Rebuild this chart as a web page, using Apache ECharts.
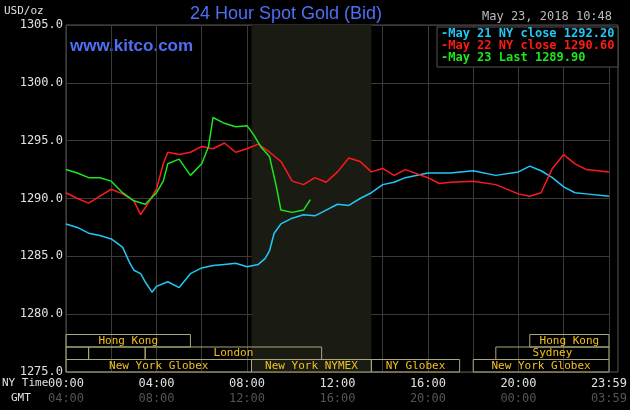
<!DOCTYPE html>
<html><head><meta charset="utf-8">
<script src="https://cdn.jsdelivr.net/npm/echarts@6/dist/echarts.min.js"></script>
<style>html,body{margin:0;padding:0;background:#000}#c{width:630px;height:410px}</style>
</head><body><div id="c"></div>
<script>
// hours since 00:00 NY time
const may21T = [0,0.5,1,1.5,2,2.5,2.8,3,3.3,3.5,3.8,4,4.5,5,5.5,6,6.5,7,7.5,8,8.5,8.8,9,9.2,9.5,10,10.5,11,11.5,12,12.5,13,13.5,14,14.5,15,16,17,18,19,20,20.5,21,21.5,22,22.5,23,24];
const may21V = [1287.8,1287.5,1287.0,1286.8,1286.5,1285.8,1284.5,1283.8,1283.5,1282.8,1281.9,1282.4,1282.8,1282.3,1283.5,1284.0,1284.2,1284.3,1284.4,1284.1,1284.3,1284.8,1285.5,1287.0,1287.8,1288.3,1288.6,1288.5,1289.0,1289.5,1289.4,1290.0,1290.5,1291.2,1291.4,1291.8,1292.2,1292.2,1292.4,1292.0,1292.3,1292.8,1292.4,1291.8,1291.0,1290.5,1290.4,1290.2];
const may22T = [0,0.5,1,1.5,2,2.5,3,3.3,3.6,4,4.3,4.5,5,5.5,6,6.5,7,7.5,8,8.5,9,9.5,10,10.5,11,11.5,12,12.5,13,13.5,14,14.5,15,16,16.5,17,18,19,20,20.5,21,21.5,22,22.5,23,24];
const may22V = [1290.5,1290.0,1289.6,1290.2,1290.8,1290.4,1289.8,1288.6,1289.5,1290.8,1293.0,1294.0,1293.8,1294.0,1294.5,1294.3,1294.8,1294.0,1294.3,1294.7,1294.0,1293.2,1291.5,1291.2,1291.8,1291.4,1292.3,1293.5,1293.2,1292.3,1292.6,1292.0,1292.5,1291.8,1291.3,1291.4,1291.5,1291.2,1290.4,1290.2,1290.5,1292.6,1293.8,1293.0,1292.5,1292.3];
const may23T = [0,0.5,1,1.5,2,2.5,3,3.5,4,4.3,4.5,5,5.5,6,6.3,6.5,7,7.5,8,8.3,8.6,9,9.3,9.5,10,10.5,10.8];
const may23V = [1292.5,1292.2,1291.8,1291.8,1291.5,1290.5,1289.8,1289.5,1290.5,1291.5,1293.0,1293.4,1292.0,1293.0,1294.5,1297.0,1296.5,1296.2,1296.3,1295.5,1294.5,1293.6,1291.0,1289.0,1288.8,1289.0,1289.9];
const legendLabels = ['May 21 NY close 1292.20','May 22 NY close 1290.60','May 23 Last 1289.90'];
const nyTicks = {0:'00:00',4:'04:00',8:'08:00',12:'12:00',16:'16:00',20:'20:00',24:'23:59'};
const gmtTicks = {0:'04:00',4:'08:00',8:'12:00',12:'16:00',16:'20:00',20:'00:00',24:'03:59'};
// sessions: [start, end, row (0 top), label]
const sessions = [
 [0,5.5,0,'Hong Kong'],[20.5,24,0,'Hong Kong'],
 [0,1,1,''],[1,3.5,1,''],[3.5,11.3,1,'London'],[19,24,1,'Sydney'],
 [0,8.2,2,'New York Globex'],[8.2,13.5,2,'New York NYMEX'],[13.5,17.4,2,'NY Globex'],[18,24,2,'New York Globex']
];
const shade = [8.2,13.5];

const zip = (t,v)=>t.map((x,i)=>[x,v[i]]);
const mono = 'DejaVu Sans Mono';
const chart = echarts.init(document.getElementById('c'));
chart.setOption({
 backgroundColor:'#000',
 animation:false,
 grid:{left:66,right:12,top:25,bottom:38},
 xAxis:{type:'value',min:0,max:24,interval:2,
  axisLine:{show:false},axisTick:{show:false},
  splitLine:{lineStyle:{color:'#3a3a3a',width:1}},
  axisLabel:{interval:0,margin:4,formatter:v=>nyTicks[v]!==undefined?'{a|'+nyTicks[v]+'}\n{b|'+gmtTicks[v]+'}':'',
   rich:{a:{color:'#e0e0e0',fontFamily:mono,fontSize:12,lineHeight:15},b:{color:'#555',fontFamily:mono,fontSize:12,lineHeight:15}}}},
 yAxis:{type:'value',min:1275,max:1305,interval:5,
  axisLine:{show:false},axisTick:{show:false},
  splitLine:{lineStyle:{color:'#3a3a3a'}},
  axisLabel:{color:'#e0e0e0',fontFamily:mono,fontSize:12,margin:3,formatter:v=>v.toFixed(1)}},
 graphic:[
  {type:'rect',shape:{x:66,y:25,width:552,height:347},style:{fill:'none',stroke:'#555'},z:-1},
  {type:'text',left:4,top:6,style:{text:'USD/oz',fill:'#e0e0e0',font:'11px '+mono}},
  {type:'text',left:190,top:5,style:{text:'24 Hour Spot Gold (Bid)',fill:'#4f6ff5',font:'18px Liberation Sans'}},
  {type:'text',left:70,top:38,style:{text:'www.kitco.com',fill:'#4f6ff5',font:'bold 17px Liberation Sans'}},
  {type:'text',left:482,top:11,style:{text:'May 23, 2018 10:48',fill:'#bbb',font:'12px '+mono}},
  {type:'rect',shape:{x:437,y:27,width:181,height:40},style:{fill:'#000',stroke:'#555'},z:50},
  {type:'text',left:441,top:28,z:51,style:{text:'-'+legendLabels[0],fill:'#22c8f5',font:'bold 12px '+mono}},
  {type:'text',left:441,top:40,z:51,style:{text:'-'+legendLabels[1],fill:'#ff1a1a',font:'bold 12px '+mono}},
  {type:'text',left:441,top:52,z:51,style:{text:'-'+legendLabels[2],fill:'#1ee61e',font:'bold 12px '+mono}},
  {type:'text',left:2,top:378,style:{text:'NY Time',fill:'#e0e0e0',font:'11px '+mono}},
  {type:'text',left:11,top:393,style:{text:'GMT',fill:'#e0e0e0',font:'11px '+mono}}
 ],
 series:[
  {type:'line',data:[],markArea:{silent:true,itemStyle:{color:'#1a1c14'},data:[[{xAxis:shade[0]},{xAxis:shade[1]}]]},z:0},
  {type:'custom',z:3,data:sessions,renderItem:(params,api)=>{
    const s=api.value(0),e=api.value(1),r=api.value(2);
    const p0=api.coord([s,1275]),p1=api.coord([e,1275]);
    const h=12.5,y=p0[1]-(3-r)*h;
    const lbl=sessions[params.dataIndex][3];
    return {type:'group',children:[
     {type:'rect',shape:{x:p0[0],y:y,width:p1[0]-p0[0],height:h},style:{fill:'rgba(0,0,0,0)',stroke:'#a8a878',lineWidth:1}},
     {type:'text',x:(p0[0]+p1[0])/2,y:y+h/2,style:{text:lbl,fill:'#f0c020',font:'11px '+mono,align:'center',verticalAlign:'middle'}}
    ]};
  }},
  {type:'line',data:zip(may21T,may21V),showSymbol:false,lineStyle:{color:'#22c8f5',width:1.5},z:4},
  {type:'line',data:zip(may22T,may22V),showSymbol:false,lineStyle:{color:'#ff1a1a',width:1.5},z:5},
  {type:'line',data:zip(may23T,may23V),showSymbol:false,lineStyle:{color:'#1ee61e',width:1.5},z:6}
 ]
});
</script></body></html>
